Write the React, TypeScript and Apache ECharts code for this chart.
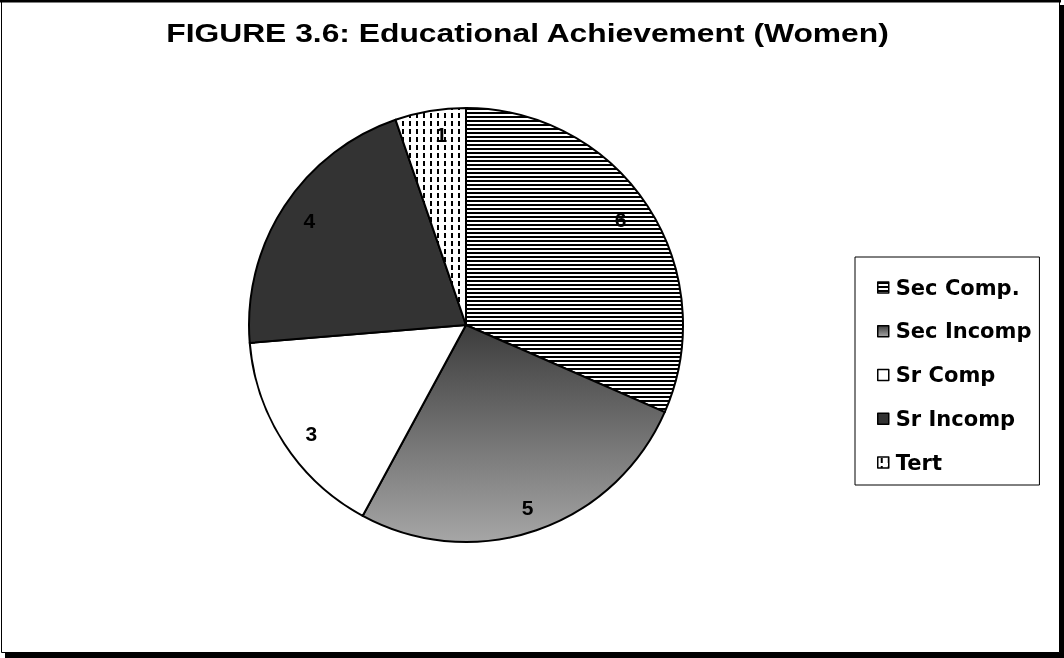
import React, { useEffect, useRef } from "react";
import * as echarts from "echarts";

const titleText = "FIGURE 3.6: Educational Achievement (Women)";
const categories = ["Sec Comp.", "Sec Incomp", "Sr Comp", "Sr Incomp", "Tert"];
const values = [6, 5, 3, 4, 1];

function makeHatch(): HTMLCanvasElement {
  const c = document.createElement("canvas");
  c.width = 4;
  c.height = 4;
  const ctx = c.getContext("2d")!;
  ctx.fillStyle = "#ffffff";
  ctx.fillRect(0, 0, 4, 4);
  ctx.fillStyle = "#000000";
  ctx.fillRect(0, 0, 4, 2);
  return c;
}

function makeDots(): HTMLCanvasElement {
  const c = document.createElement("canvas");
  c.width = 7;
  c.height = 8;
  const ctx = c.getContext("2d")!;
  ctx.fillStyle = "#ffffff";
  ctx.fillRect(0, 0, 7, 8);
  ctx.fillStyle = "#000000";
  ctx.fillRect(3, 1, 2, 5);
  return c;
}

const labelOffsets = [
  [-7, 0],
  [-1, 0],
  [7, 3],
  [5, 1],
  [7, 0],
];

export default function App() {
  const ref = useRef<HTMLDivElement>(null);
  useEffect(() => {
    if (!ref.current) return;
    const chart = echarts.init(ref.current, null, { renderer: "svg" });
    const fills: any[] = [
      { image: makeHatch(), repeat: "repeat" },
      new echarts.graphic.LinearGradient(0, 0, 0, 1, [
        { offset: 0, color: "#3c3c3c" },
        { offset: 1, color: "#a6a6a6" },
      ]),
      "#ffffff",
      "#333333",
      { image: makeDots(), repeat: "repeat" },
    ];
    const mainData = categories.map((name, i) => ({
      name,
      value: values[i],
      itemStyle: { color: fills[i] },
    }));
    const labelData = categories.map((name, i) => ({
      name,
      value: values[i],
      label: { offset: labelOffsets[i] },
    }));
    chart.setOption({
      animation: false,
      backgroundColor: "transparent",
      graphic: [
        { type: "rect", z: -10, shape: { x: 5, y: 5, width: 1059, height: 653 }, style: { fill: "#000" } },
        {
          type: "rect",
          z: -9,
          shape: { x: 1.5, y: 1, width: 1058, height: 651.5 },
          style: { fill: "#fff", stroke: "#000", lineWidth: 1 },
        },
        { type: "rect", z: -8, shape: { x: 0, y: 0, width: 1061, height: 2.5 }, style: { fill: "#000" } },
        {
          type: "text",
          x: 527.5,
          y: 32.5,
          scaleX: 1.2,
          z: 10,
          style: {
            text: titleText,
            x: 0,
            y: 0,
            fill: "#000",
            font: 'bold 26.5px "Liberation Sans", Arial, sans-serif',
            align: "center",
            verticalAlign: "middle",
          },
        },
      ],
      legend: {
        data: categories,
        orient: "vertical",
        left: 855,
        top: 257,
        borderColor: "#000",
        borderWidth: 1,
        borderRadius: 0,
        padding: [20, 8, 12, 22],
        itemGap: 22.75,
        itemWidth: 11,
        itemHeight: 11,
        icon: "rect",
        selectedMode: false,
        itemStyle: { borderColor: "#000", borderWidth: 1.5 },
        textStyle: {
          fontFamily: '"DejaVu Sans", sans-serif',
          fontWeight: "bold",
          fontSize: 21,
          lineHeight: 20,
          color: "#000",
          padding: [0, 0, 0, 2],
        },
      },
      series: [
        {
          type: "pie",
          center: [466, 325],
          radius: [0, 217],
          startAngle: 90,
          clockwise: true,
          avoidLabelOverlap: false,
          label: { show: false },
          labelLine: { show: false },
          itemStyle: { borderColor: "#000", borderWidth: 2 },
          emphasis: { disabled: true },
          data: mainData,
        },
        {
          type: "pie",
          center: [466, 325],
          radius: [163, 217],
          startAngle: 90,
          clockwise: true,
          silent: true,
          legendHoverLink: false,
          avoidLabelOverlap: false,
          itemStyle: { color: "transparent", borderWidth: 0 },
          emphasis: { disabled: true },
          label: {
            show: true,
            position: "inside",
            formatter: "{c}",
            color: "#000",
            fontFamily: '"Liberation Sans", Arial, sans-serif',
            fontWeight: "bold",
            fontSize: 21,
            textBorderWidth: 0,
          },
          labelLine: { show: false },
          data: labelData,
        },
      ],
    });
    return () => chart.dispose();
  }, []);
  return (
    <div
      ref={ref}
      style={{ position: "fixed", left: 0, top: 0, width: 1064, height: 658 }}
    />
  );
}
